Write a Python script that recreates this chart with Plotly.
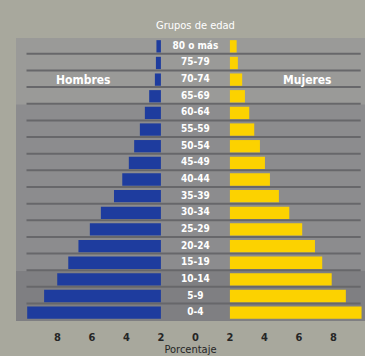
import plotly.graph_objects as go

# Age groups, bottom to top
edades = ["0-4", "5-9", "10-14", "15-19", "20-24", "25-29", "30-34", "35-39",
          "40-44", "45-49", "50-54", "55-59", "60-64", "65-69", "70-74", "75-79", "80 o más"]
hombres = [7.75, 6.77, 6.01, 5.37, 4.78, 4.12, 3.48, 2.72,
           2.24, 1.86, 1.55, 1.22, 0.93, 0.68, 0.35, 0.29, 0.26]
mujeres = [7.63, 6.72, 5.90, 5.35, 4.93, 4.19, 3.44, 2.84,
           2.32, 2.03, 1.74, 1.41, 1.12, 0.87, 0.71, 0.46, 0.39]
tick_vals = [-8, -6, -4, -2, 0, 2, 4, 6, 8]
tick_text = ["8", "6", "4", "2", "0", "2", "4", "6", "8"]
offset = 2  # bars start at +/-2 (centre gap for labels)

FONT = "DejaVu Sans Condensed, Liberation Sans Narrow, Roboto Condensed, Arial Narrow, sans-serif"

fig = go.Figure()
fig.add_trace(go.Bar(
    y=edades, x=[-v for v in hombres], base=-offset, orientation="h",
    marker=dict(color="#1e3c9e", line=dict(width=0)), name="Hombres",
    hoverinfo="skip"))
fig.add_trace(go.Bar(
    y=edades, x=mujeres, base=offset, orientation="h",
    marker=dict(color="#fcd200", line=dict(width=0)), name="Mujeres",
    hoverinfo="skip"))
fig.add_trace(go.Scatter(
    y=edades, x=[0] * len(edades), mode="text", text=edades,
    textfont=dict(color="white", size=10, family=FONT, weight="bold"), hoverinfo="skip",
    showlegend=False))

shapes = []
# background bands
bands = [(-0.5, 2.5, "#7f7f82"), (2.5, 12.5, "#8c8c8e"), (12.5, 16.5, "#9a9a98")]
for y0, y1, c in bands:
    shapes.append(dict(type="rect", xref="paper", x0=0, x1=1, yref="y", y0=y0, y1=y1,
                       fillcolor=c, line=dict(width=0), layer="below"))
# separator lines
for k in range(len(edades) - 1):
    shapes.append(dict(type="line", xref="x", x0=-9.79, x1=9.58, yref="y",
                       y0=k + 0.55, y1=k + 0.55,
                       line=dict(color="#67676a", width=2), layer="below"))

fig.update_layout(
    width=365, height=356,
    margin=dict(l=16, r=0, t=38, b=35),
    paper_bgcolor="#a8a89d",
    plot_bgcolor="#8c8c8e",
    barmode="overlay",
    bargap=0.26,
    showlegend=False,
    shapes=shapes,
    font=dict(family=FONT),
    xaxis=dict(range=[-10.4, 9.83], tickvals=tick_vals, ticktext=tick_text,
               showgrid=False, zeroline=False, showline=False, ticks="",
               ticklabelstandoff=8,
               tickfont=dict(size=11, color="#262626", family=FONT, weight="bold"),
               title=dict(text="Porcentaje", font=dict(size=11, color="#262626", family=FONT),
                          standoff=0),
               fixedrange=True),
    yaxis=dict(categoryorder="array", categoryarray=edades, range=[-0.5, 16.5],
               showticklabels=False, showgrid=False, zeroline=False, showline=False,
               ticks="", fixedrange=True),
    annotations=[
        dict(text="Grupos de edad", x=0, xref="x", y=1, yref="paper", yanchor="bottom",
             yshift=4, showarrow=False, font=dict(size=11, color="white", family=FONT)),
        dict(text="Hombres", x=-6.48, xref="x", y="70-74", yref="y", showarrow=False,
             font=dict(size=12, color="white", family=FONT, weight="bold")),
        dict(text="Mujeres", x=6.5, xref="x", y="70-74", yref="y", showarrow=False,
             font=dict(size=12, color="white", family=FONT, weight="bold")),
    ],
)

fig.write_html("out.html", config={"displayModeBar": False},
               post_script="document.body.style.margin='0';document.body.style.padding='0';")
